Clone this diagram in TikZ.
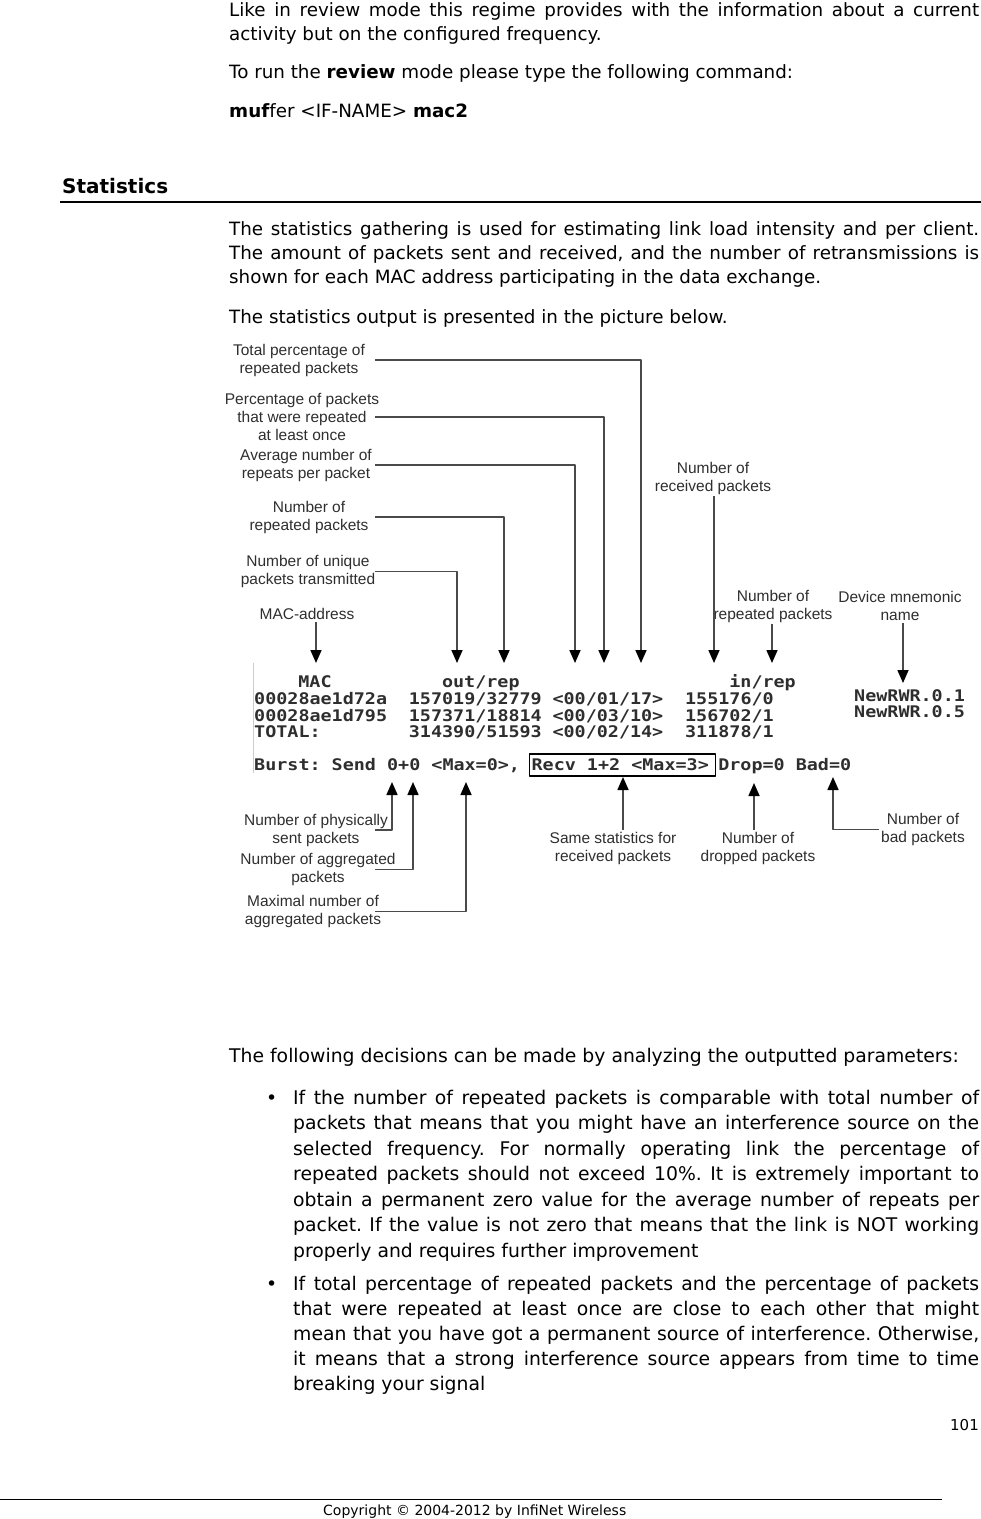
\documentclass[tikz,border=0pt]{standalone}
\usepackage{fontspec}
\setmainfont{DejaVu Sans}
\newfontfamily\labelfont{Liberation Sans}
\newfontfamily\termfont[FakeStretch=1.15]{DejaVu Sans Mono}
\usepackage{tikz}
\usetikzlibrary{arrows.meta}
\definecolor{leadgray}{HTML}{4A4A4A}
\definecolor{textgray}{HTML}{2E2E2E}
\newcommand{\cw}{11.05}
\frenchspacing

\begin{document}
\begin{tikzpicture}
    [x=1pt,y=-1pt,line join=round,
     para/.style={anchor=base west,inner sep=0pt,font=\fontsize{18.3}{24}\selectfont},
     bpara/.style={para,font=\fontsize{18.8}{25}\selectfont},
     lbl/.style={align=center,inner sep=2pt,text=textgray,font=\labelfont\fontsize{15.5}{18}\selectfont},
     term/.style={anchor=base west,inner sep=0pt,text=textgray,font=\termfont\bfseries\fontsize{16}{16}\selectfont},
     callout/.style={draw=leadgray,line width=1.6pt,-{Triangle[width=11pt,length=13pt,color=black]}}]
\useasboundingbox (0,0) rectangle (981,1519);

%text above the picture
\node[para] (p1a) at (229,16) {\makebox[750pt][s]{Like in review mode this regime provides with the information about a current}};
\node[para] (p1b) at (229,40) {activity but on the configured frequency.};
\node[para] (p2) at (229,78) {To run the \textbf{review} mode please type the following command:};
\node[para] (p3) at (229,117) {\textbf{muf}fer <IF-NAME> \textbf{mac2}};

\node[para,font=\bfseries\fontsize{20}{24}\selectfont] (stat) at (62,193) {Statistics};
\draw[line width=1.3pt] (60,202) -- (981,202);

\node[para] (p4a) at (229,235) {\makebox[750pt][s]{The statistics gathering is used for estimating link load intensity and per client.}};
\node[para] (p4b) at (229,259) {\makebox[750pt][s]{The amount of packets sent and received, and the number of retransmissions is}};
\node[para] (p4c) at (229,283) {shown for each MAC address participating in the data exchange.};
\node[para] (p5) at (229,323) {The statistics output is presented in the picture below.};

%labels above the output
\node[lbl] (lbl-total) at (299,360) {Total percentage of\\repeated packets};
\node[lbl] (lbl-pct) at (302,417) {Percentage of packets\\that were repeated\\at least once};
\node[lbl] (lbl-avg) at (306,465) {Average number of\\repeats per packet};
\node[lbl] (lbl-rep) at (309,517) {Number of\\repeated packets};
\node[lbl] (lbl-uniq) at (308,571.5) {Number of unique\\packets transmitted};
\node[lbl] (lbl-mac) at (307,614) {MAC-address};
\node[lbl] (lbl-recv) at (713,478) {Number of\\received packets};
\node[lbl] (lbl-rrep) at (773,606) {Number of\\repeated packets};
\node[lbl] (lbl-dev) at (900,606) {Device mnemonic\\name};

%arrow tips
\coordinate (lead) at (375,0);
\coordinate (tip-mac) at (316,663);
\coordinate (tip-uniq) at (457,663);
\coordinate (tip-rep) at (504,663);
\coordinate (tip-avg) at (575,663);
\coordinate (tip-pct) at (604,663);
\coordinate (tip-total) at (641,663);
\coordinate (tip-recv) at (714,663);
\coordinate (tip-rrep) at (772,663);
\coordinate (tip-dev) at (903,683);
\coordinate (tip-phys) at (392,782);
\coordinate (tip-aggr) at (413,782);
\coordinate (tip-max) at (466,782);
\coordinate (tip-same) at (623,777);
\coordinate (tip-drop) at (754,783);
\coordinate (tip-bad) at (833,777);

\draw[callout] (lbl-total.east -| lead) -| (tip-total);
\draw[callout] (lbl-pct.east -| lead) -| (tip-pct);
\draw[callout] (lbl-avg.east -| lead) -| (tip-avg);
\draw[callout] (lbl-rep.east -| lead) -| (tip-rep);
\draw[callout] (lbl-uniq.east -| lead) -| (tip-uniq);
\draw[callout] (lbl-mac.south -| tip-mac) -- (tip-mac);
\draw[callout] (lbl-recv.south -| tip-recv) -- (tip-recv);
\draw[callout] (lbl-rrep.south -| tip-rrep) -- (tip-rrep);
\draw[callout] (lbl-dev.south -| tip-dev) -- (tip-dev);

%console output
\draw[black!20,line width=1pt] (253,663) -- (253,773);
\node[term] (hdr-mac) at ({254+4*\cw},687) {MAC};
\node[term] (hdr-out) at ({254+17*\cw},687) {out/rep};
\node[term] (hdr-in) at ({254+43*\cw},687) {in/rep};
\node[term] (r1-mac) at (254,704) {00028ae1d72a};
\node[term] (r1-out) at ({254+14*\cw},704) {157019/32779};
\node[term] (r1-avg) at ({254+27*\cw},704) {<00/01/17>};
\node[term] (r1-in) at ({254+39*\cw},704) {155176/0};
\node[term] (r2-mac) at (254,721) {00028ae1d795};
\node[term] (r2-out) at ({254+14*\cw},721) {157371/18814};
\node[term] (r2-avg) at ({254+27*\cw},721) {<00/03/10>};
\node[term] (r2-in) at ({254+39*\cw},721) {156702/1};
\node[term] (r3-mac) at (254,737) {TOTAL:};
\node[term] (r3-out) at ({254+14*\cw},737) {314390/51593};
\node[term] (r3-avg) at ({254+27*\cw},737) {<00/02/14>};
\node[term] (r3-in) at ({254+39*\cw},737) {311878/1};
\node[term] (name1) at (854,701) {NewRWR.0.1};
\node[term] (name2) at (854,717) {NewRWR.0.5};
\node[term] (burst) at (254,770) {Burst: Send 0+0 <Max=0>,};
\node[term,draw=black,line width=1.2pt,inner xsep=2pt,
      text height=13pt,text depth=3pt,inner ysep=3pt] (recv) at (529,770) {Recv 1+2 <Max=3>\hspace*{5pt}};
\node[term] (drop) at ({254+42*\cw},770) {Drop=0 Bad=0};

%labels below the output
\node[lbl] (lbl-phys) at (316,830) {Number of physically\\sent packets};
\node[lbl] (lbl-aggr) at (318,869.5) {Number of aggregated\\packets};
\node[lbl] (lbl-max) at (313,911.5) {Maximal number of\\aggregated packets};
\node[lbl] (lbl-same) at (613,848) {Same statistics for\\received packets};
\node[lbl] (lbl-drop) at (758,848) {Number of\\dropped packets};
\node[lbl] (lbl-bad) at (923,829.5) {Number of\\bad packets};

\draw[callout] (lbl-phys.east -| lead) -| (tip-phys);
\draw[callout] (lbl-aggr.east -| lead) -| (tip-aggr);
\draw[callout] (lbl-max.east -| lead) -| (tip-max);
\draw[callout] (lbl-same.north -| tip-same) -- (tip-same);
\draw[callout] (lbl-drop.north -| tip-drop) -- (tip-drop);
\draw[callout] (lbl-bad.west) -| (tip-bad);

%text below the picture
\node[bpara] (p6) at (229,1062) {The following decisions can be made by analyzing the outputted parameters:};
\node[bpara] (b1) at (266,1104) {\textbullet};
\node[bpara] (b1a) at (293,1104) {\makebox[686pt][s]{If the number of repeated packets is comparable with total number of}};
\node[bpara] (b1b) at (293,1129.5) {\makebox[686pt][s]{packets that means that you might have an interference source on the}};
\node[bpara] (b1c) at (293,1155) {\makebox[686pt][s]{selected frequency. For normally operating link the percentage of}};
\node[bpara] (b1d) at (293,1180.5) {\makebox[686pt][s]{repeated packets should not exceed 10\%. It is extremely important to}};
\node[bpara] (b1e) at (293,1206) {\makebox[686pt][s]{obtain a permanent zero value for the average number of repeats per}};
\node[bpara] (b1f) at (293,1231.5) {\makebox[686pt][s]{packet. If the value is not zero that means that the link is NOT working}};
\node[bpara] (b1g) at (293,1257) {properly and requires further improvement};
\node[bpara] (b2) at (266,1290) {\textbullet};
\node[bpara] (b2a) at (293,1290) {\makebox[686pt][s]{If total percentage of repeated packets and the percentage of packets}};
\node[bpara] (b2b) at (293,1315) {\makebox[686pt][s]{that were repeated at least once are close to each other that might}};
\node[bpara] (b2c) at (293,1340) {\makebox[686pt][s]{mean that you have got a permanent source of interference. Otherwise,}};
\node[bpara] (b2d) at (293,1365) {\makebox[686pt][s]{it means that a strong interference source appears from time to time}};
\node[bpara] (b2e) at (293,1390) {breaking your signal};

%footer
\node[para,anchor=base east,font=\fontsize{15}{18}\selectfont] (page) at (979,1430) {101};
\draw[line width=1pt] (0,1499) -- (942,1499);
\node[para,font=\fontsize{14}{16}\selectfont] (copy) at (323,1515) {Copyright © 2004-2012 by InfiNet Wireless};
\end{tikzpicture}
\end{document}
